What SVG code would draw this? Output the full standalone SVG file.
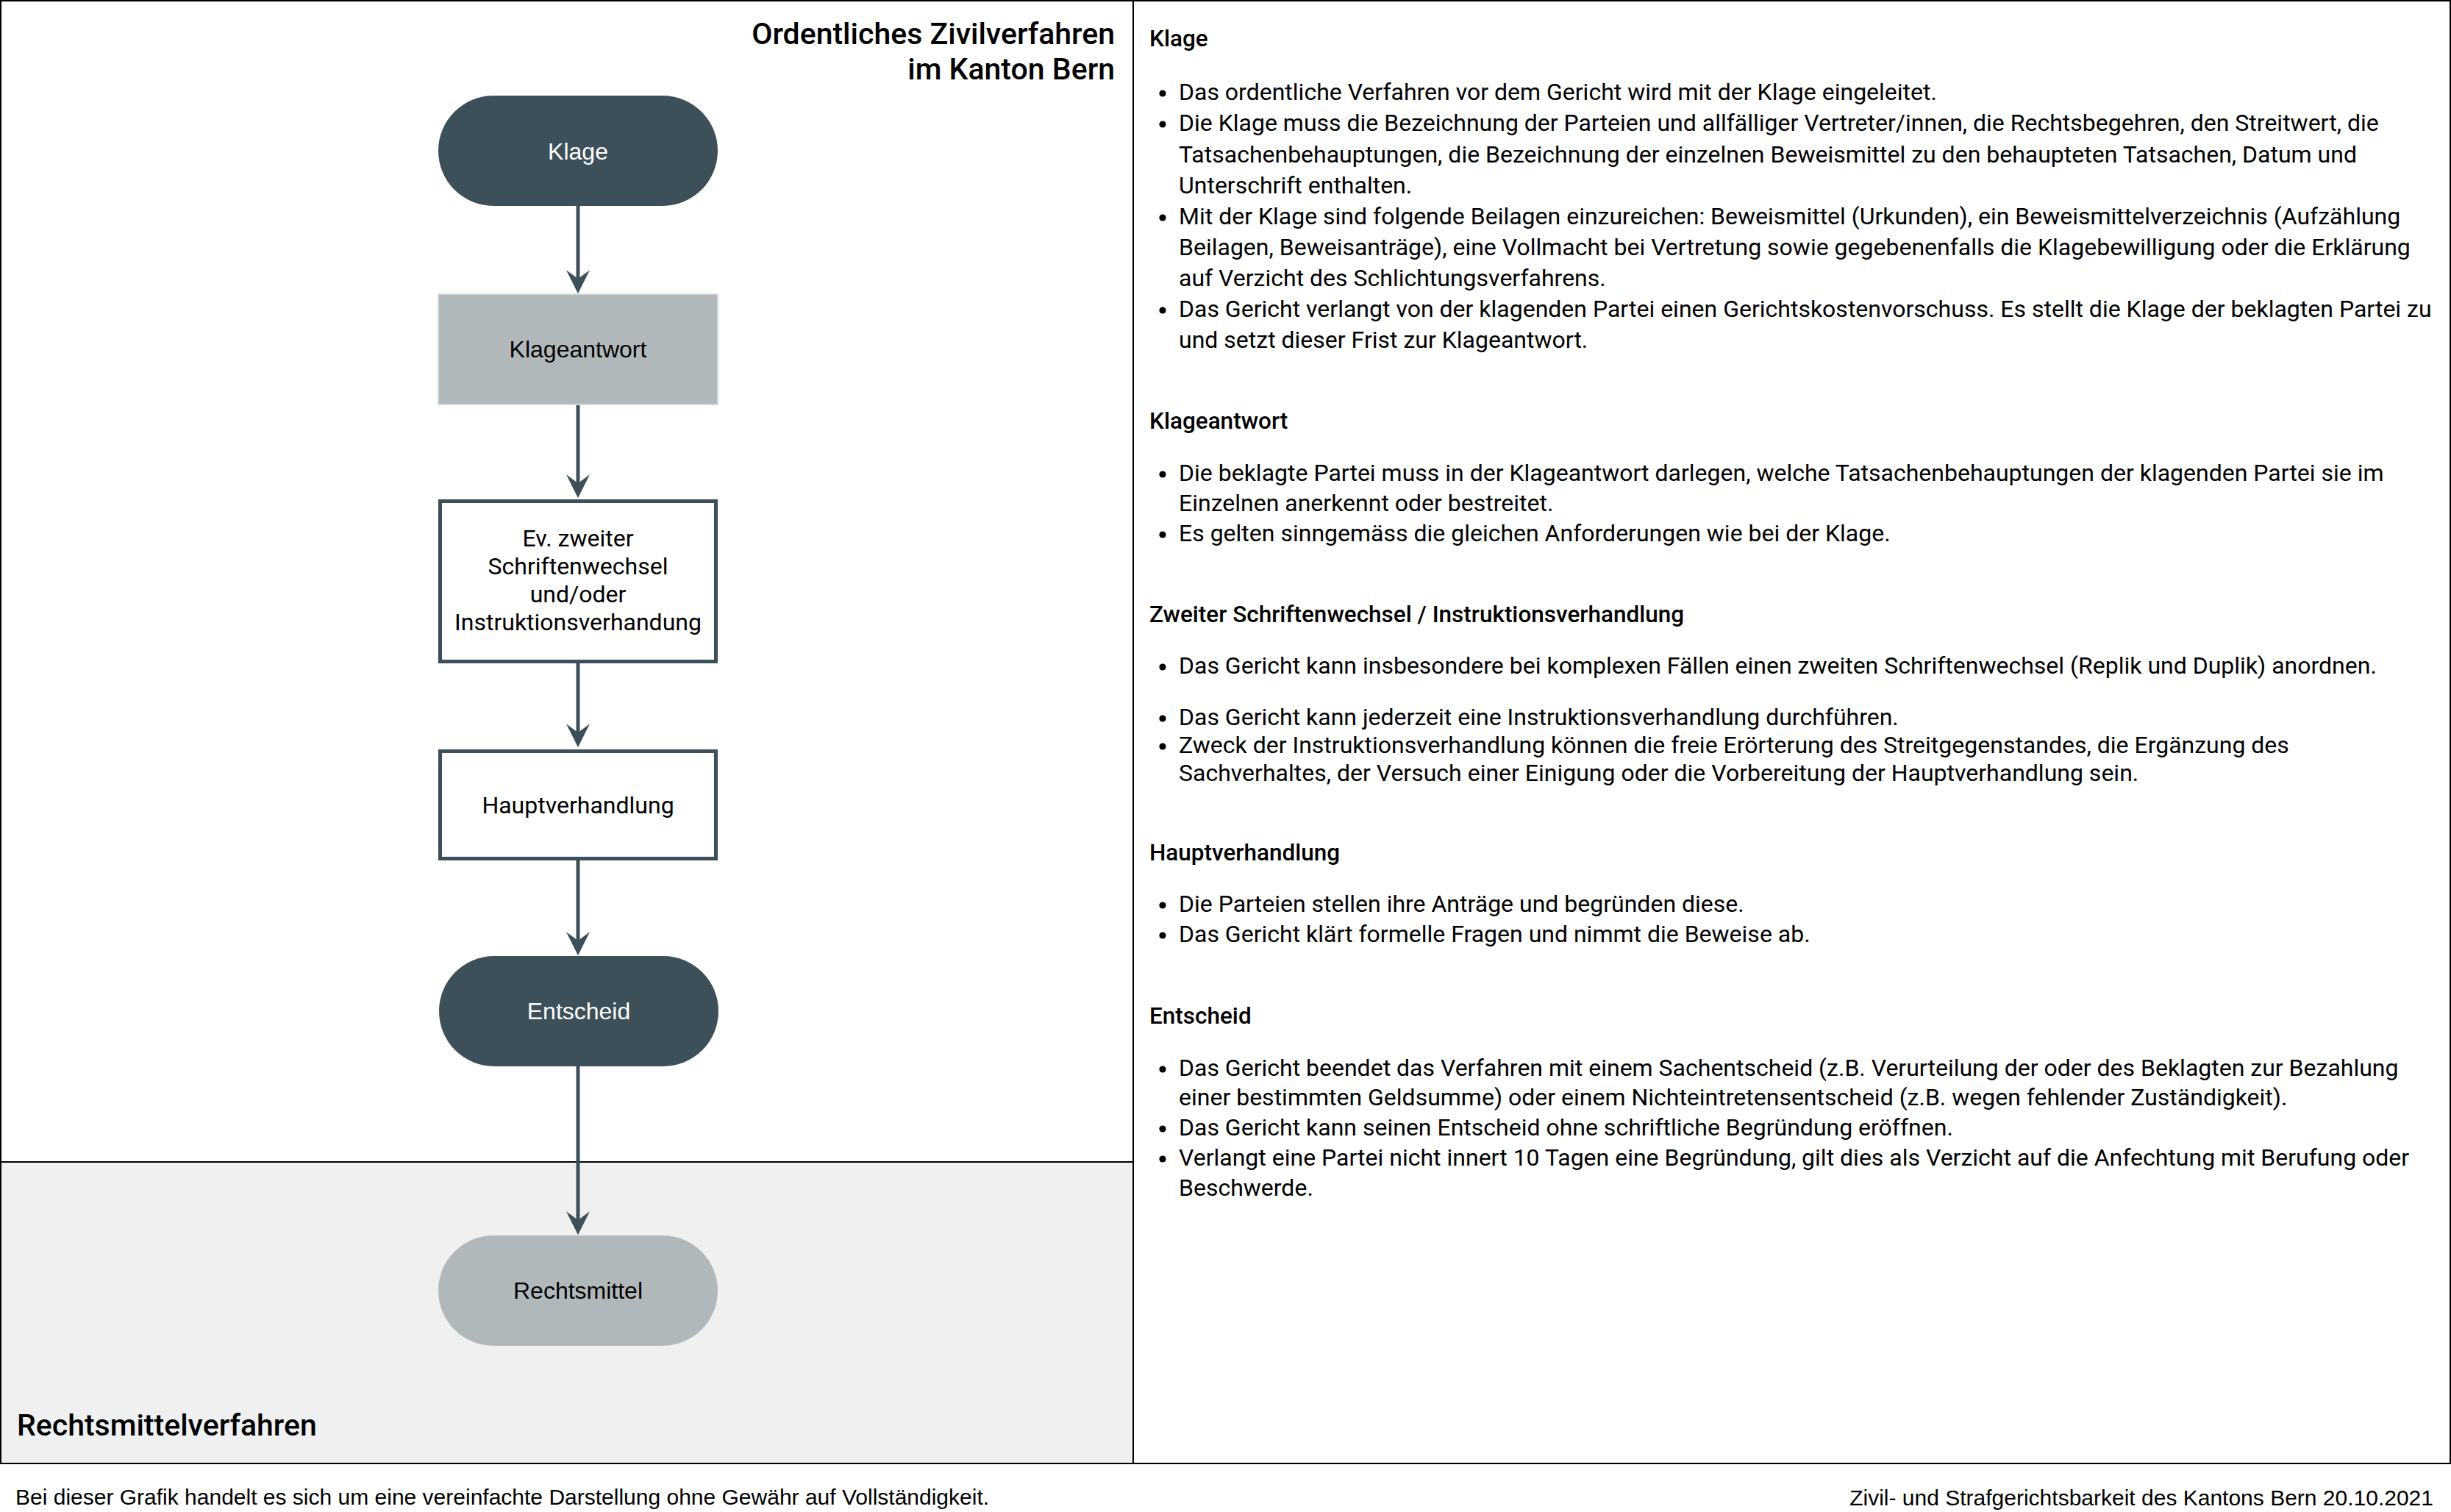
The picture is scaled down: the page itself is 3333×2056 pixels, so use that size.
<svg xmlns="http://www.w3.org/2000/svg" width="3333" height="2056" viewBox="0 0 3333 2056">
<style>
.t{font-family:Roboto,"Liberation Sans",sans-serif;fill:#000}
.title{font-size:41px;font-weight:500;text-anchor:end}
.h{font-size:31.5px;font-weight:500}
.b{font-size:32px}
.n{font-family:"Liberation Sans",Arial,sans-serif;font-size:32px;text-anchor:middle}
.nr{font-family:Roboto,"Liberation Sans",sans-serif;font-size:32px;text-anchor:middle;fill:#000}
.w{fill:#fff}
.dark{fill:#3d5059}
.grey{fill:#b1b8bb}
.box{fill:#fff;stroke:#3d5059;stroke-width:5}
.edge{fill:none;stroke:#3d5059;stroke-width:5}
.foot{font-family:"Liberation Sans",Arial,sans-serif;font-size:30px;fill:#000}
</style>
<defs>
<marker id="arr" markerUnits="userSpaceOnUse" markerWidth="32" markerHeight="32" viewBox="0 0 30 30" refX="12" refY="15" orient="auto">
<path d="M0,0 L30,15 L0,30 L11,15 Z" fill="#3d5059"/>
</marker>
</defs>
<rect x="0" y="0" width="3333" height="2056" fill="#fff"/>
<rect x="1" y="1580" width="1540" height="410" fill="#eff0f2"/>
<g id="frame" fill="none" stroke="#000" stroke-width="2">
<rect x="1" y="1" width="3331" height="1989"/>
<line x1="1541" y1="1" x2="1541" y2="1990"/>
<line x1="1" y1="1580" x2="1541" y2="1580"/>
</g>
<g id="title" class="t title">
<text x="1516" y="60">Ordentliches Zivilverfahren</text>
<text x="1516" y="108">im Kanton Bern</text>
</g>
<text id="lane-label" class="t" x="23" y="1952" font-size="41" font-weight="500">Rechtsmittelverfahren</text>
<g id="connectors">
<path class="edge" d="M786,280 V380" marker-end="url(#arr)"/>
<path class="edge" d="M786,550 V658" marker-end="url(#arr)"/>
<path class="edge" d="M786,901 V997" marker-end="url(#arr)"/>
<path class="edge" d="M786,1170 V1280" marker-end="url(#arr)"/>
<path class="edge" d="M786,1450 V1660" marker-end="url(#arr)"/>
</g>
<g id="node-klage">
<rect class="dark" x="596" y="130" width="380" height="150" rx="75"/>
<text class="n w" x="786" y="217">Klage</text>
</g>
<g id="node-klageantwort">
<rect class="grey" x="596" y="400" width="380" height="150" stroke="#d3d8db" stroke-width="2"/>
<text class="n" x="786" y="486">Klageantwort</text>
</g>
<g id="node-schriftenwechsel">
<rect class="box" x="598.5" y="681.5" width="375" height="218"/>
<text class="nr" x="786" y="743">Ev. zweiter</text>
<text class="nr" x="786" y="781">Schriftenwechsel</text>
<text class="nr" x="786" y="819">und/oder</text>
<text class="nr" x="786" y="857">Instruktionsverhandung</text>
</g>
<g id="node-hauptverhandlung">
<rect class="box" x="598.5" y="1021.5" width="375" height="146"/>
<text class="nr" x="786" y="1106">Hauptverhandlung</text>
</g>
<g id="node-entscheid">
<rect class="dark" x="597" y="1300" width="380" height="150" rx="75"/>
<text class="n w" x="787" y="1386">Entscheid</text>
</g>
<g id="node-rechtsmittel">
<rect class="grey" x="596" y="1680" width="380" height="150" rx="75"/>
<text class="n" x="786" y="1766">Rechtsmittel</text>
</g>
<g id="details" class="t">
<g fill="#000">
<circle cx="1581" cy="127" r="4.6"/>
<circle cx="1581" cy="169" r="4.6"/>
<circle cx="1581" cy="296" r="4.6"/>
<circle cx="1581" cy="422" r="4.6"/>
<circle cx="1581" cy="645" r="4.6"/>
<circle cx="1581" cy="727" r="4.6"/>
<circle cx="1581" cy="907" r="4.6"/>
<circle cx="1581" cy="977" r="4.6"/>
<circle cx="1581" cy="1015" r="4.6"/>
<circle cx="1581" cy="1231" r="4.6"/>
<circle cx="1581" cy="1272" r="4.6"/>
<circle cx="1581" cy="1454" r="4.6"/>
<circle cx="1581" cy="1535" r="4.6"/>
<circle cx="1581" cy="1576" r="4.6"/>
</g>
<text class="h" x="1563" y="63">Klage</text>
<text class="b" x="1603" y="136">Das ordentliche Verfahren vor dem Gericht wird mit der Klage eingeleitet.</text>
<text class="b" x="1603" y="178">Die Klage muss die Bezeichnung der Parteien und allfälliger Vertreter/innen, die Rechtsbegehren, den Streitwert, die</text>
<text class="b" x="1603" y="221">Tatsachenbehauptungen, die Bezeichnung der einzelnen Beweismittel zu den behaupteten Tatsachen, Datum und</text>
<text class="b" x="1603" y="263">Unterschrift enthalten.</text>
<text class="b" x="1603" y="305">Mit der Klage sind folgende Beilagen einzureichen: Beweismittel (Urkunden), ein Beweismittelverzeichnis (Aufzählung</text>
<text class="b" x="1603" y="347">Beilagen, Beweisanträge), eine Vollmacht bei Vertretung sowie gegebenenfalls die Klagebewilligung oder die Erklärung</text>
<text class="b" x="1603" y="389">auf Verzicht des Schlichtungsverfahrens.</text>
<text class="b" x="1603" y="431">Das Gericht verlangt von der klagenden Partei einen Gerichtskostenvorschuss. Es stellt die Klage der beklagten Partei zu</text>
<text class="b" x="1603" y="473">und setzt dieser Frist zur Klageantwort.</text>
<text class="h" x="1563" y="583">Klageantwort</text>
<text class="b" x="1603" y="654">Die beklagte Partei muss in der Klageantwort darlegen, welche Tatsachenbehauptungen der klagenden Partei sie im</text>
<text class="b" x="1603" y="695">Einzelnen anerkennt oder bestreitet.</text>
<text class="b" x="1603" y="736">Es gelten sinngemäss die gleichen Anforderungen wie bei der Klage.</text>
<text class="h" x="1563" y="846">Zweiter Schriftenwechsel / Instruktionsverhandlung</text>
<text class="b" x="1603" y="916">Das Gericht kann insbesondere bei komplexen Fällen einen zweiten Schriftenwechsel (Replik und Duplik) anordnen.</text>
<text class="b" x="1603" y="986">Das Gericht kann jederzeit eine Instruktionsverhandlung durchführen.</text>
<text class="b" x="1603" y="1024">Zweck der Instruktionsverhandlung können die freie Erörterung des Streitgegenstandes, die Ergänzung des</text>
<text class="b" x="1603" y="1062">Sachverhaltes, der Versuch einer Einigung oder die Vorbereitung der Hauptverhandlung sein.</text>
<text class="h" x="1563" y="1170">Hauptverhandlung</text>
<text class="b" x="1603" y="1240">Die Parteien stellen ihre Anträge und begründen diese.</text>
<text class="b" x="1603" y="1281">Das Gericht klärt formelle Fragen und nimmt die Beweise ab.</text>
<text class="h" x="1563" y="1392">Entscheid</text>
<text class="b" x="1603" y="1463">Das Gericht beendet das Verfahren mit einem Sachentscheid (z.B. Verurteilung der oder des Beklagten zur Bezahlung</text>
<text class="b" x="1603" y="1503">einer bestimmten Geldsumme) oder einem Nichteintretensentscheid (z.B. wegen fehlender Zuständigkeit).</text>
<text class="b" x="1603" y="1544">Das Gericht kann seinen Entscheid ohne schriftliche Begründung eröffnen.</text>
<text class="b" x="1603" y="1585">Verlangt eine Partei nicht innert 10 Tagen eine Begründung, gilt dies als Verzicht auf die Anfechtung mit Berufung oder</text>
<text class="b" x="1603" y="1626">Beschwerde.</text>
</g>
<g id="footer">
<text class="foot" x="21" y="2046">Bei dieser Grafik handelt es sich um eine vereinfachte Darstellung ohne Gewähr auf Vollständigkeit.</text>
<text class="foot" x="3309" y="2047" text-anchor="end">Zivil- und Strafgerichtsbarkeit des Kantons Bern 20.10.2021</text>
</g>
</svg>
